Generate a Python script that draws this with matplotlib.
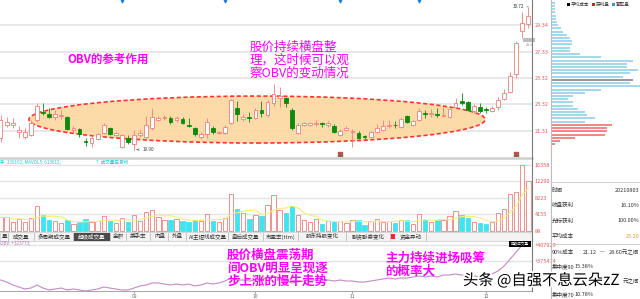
import numpy as np
import pandas as pd
import matplotlib
matplotlib.use('Agg')
import matplotlib.pyplot as plt
from matplotlib.patches import Ellipse, Rectangle
import matplotlib.patheffects as pe

plt.rcParams['font.family'] = ['Noto Sans CJK SC', 'DejaVu Sans']
plt.rcParams['axes.unicode_minus'] = False

# ---- 数据（从截图读数估计）----
opens = [20.78, 21.76, 21.80, 21.27, 20.86, 21.01, 22.14, 22.75, 22.60, 22.37,
         22.45, 22.37, 21.39, 21.46, 20.55, 20.40, 20.70, 21.16, 21.54, 21.01,
         20.10, 20.78, 20.32, 21.01, 20.86, 21.54, 22.14, 22.30, 22.30, 22.14,
         22.22, 21.76, 21.54, 20.86, 21.08, 21.54, 21.16, 21.16, 21.92, 23.05,
         22.22, 22.37, 22.30, 22.90, 22.52, 23.43, 23.81, 23.81, 22.90, 21.16,
         21.80, 21.80, 21.84, 21.92, 21.80, 21.69, 21.01, 21.39, 21.23, 21.16,
         20.90, 20.86, 21.23, 21.39, 21.72, 21.80, 21.61, 22.45, 21.76, 22.14,
         22.67, 22.63, 22.63, 22.41, 22.37, 23.13, 23.58, 23.51, 22.83, 23.13,
         23.01, 22.83, 23.13, 23.74, 24.27, 25.63, 28.89, 29.42]
highs = [22.52, 22.37, 22.30, 21.69, 21.54, 22.14, 23.43, 23.43, 23.05, 22.90,
         22.90, 22.45, 21.69, 21.54, 20.78, 21.01, 21.16, 21.92, 21.61, 21.23,
         21.08, 21.01, 21.39, 21.39, 22.45, 23.05, 22.45, 22.52, 22.45, 22.45,
         22.37, 22.30, 21.61, 21.23, 22.30, 21.69, 21.31, 21.76, 23.74, 23.58,
         22.60, 22.75, 23.05, 23.58, 23.66, 24.87, 24.65, 23.89, 23.05, 21.92,
         21.99, 21.99, 22.14, 21.99, 22.07, 21.84, 21.46, 21.69, 21.46, 21.31,
         21.01, 21.31, 21.84, 22.14, 22.14, 22.07, 22.30, 22.52, 22.14, 23.05,
         22.90, 22.98, 23.05, 23.13, 23.05, 23.81, 24.19, 23.58, 23.36, 23.43,
         23.13, 23.21, 23.89, 24.49, 25.78, 28.13, 30.33, 30.72]
lows = [20.48, 21.61, 21.54, 20.78, 20.70, 20.93, 21.99, 22.52, 22.30, 22.14,
        22.22, 21.39, 21.23, 20.86, 20.17, 20.10, 20.63, 21.08, 21.01, 20.93,
        20.02, 20.32, 19.90, 20.86, 20.78, 21.39, 22.07, 22.14, 21.84, 21.99,
        21.84, 21.61, 20.93, 20.70, 20.78, 21.08, 21.08, 21.08, 21.84, 22.07,
        22.07, 21.99, 22.22, 22.37, 22.37, 23.21, 23.13, 23.13, 21.39, 21.08,
        21.69, 21.69, 21.69, 21.61, 21.61, 21.16, 20.93, 21.31, 20.10, 20.70,
        20.70, 20.78, 21.16, 21.31, 21.54, 21.54, 21.54, 21.92, 21.69, 22.07,
        22.30, 22.37, 22.37, 22.37, 22.30, 23.05, 23.28, 22.83, 22.67, 22.67,
        22.67, 22.75, 22.90, 23.66, 24.19, 25.32, 28.36, 29.12]
closes = [22.14, 21.99, 21.88, 21.35, 21.23, 21.92, 23.21, 22.67, 22.37, 22.60,
          22.52, 21.46, 21.54, 21.08, 20.48, 20.78, 21.08, 21.76, 21.08, 21.16,
          21.01, 20.48, 21.01, 21.16, 21.76, 22.37, 22.30, 22.37, 21.99, 22.30,
          21.92, 21.69, 21.08, 21.08, 21.99, 21.23, 21.23, 21.61, 23.66, 22.60,
          22.37, 22.30, 22.90, 22.67, 23.51, 24.11, 23.96, 23.43, 21.54, 21.76,
          21.88, 21.88, 21.92, 21.84, 21.88, 21.23, 21.31, 21.54, 21.31, 20.78,
          20.82, 21.23, 21.54, 21.69, 21.80, 21.76, 22.22, 21.99, 22.07, 22.83,
          22.60, 22.71, 22.56, 22.49, 22.98, 23.43, 23.43, 22.90, 23.21, 22.83,
          22.94, 23.05, 23.66, 24.19, 25.48, 27.98, 29.50, 30.03]
volumes = [3400, 3450, 2220, 3060, 2220, 3200, 6090, 4040, 2640, 2390,
           2070, 2640, 1820, 2220, 2880, 2220, 2470, 3700, 2470, 2070,
           3300, 2220, 3900, 2390, 4680, 5280, 3450, 2810, 2810, 3060,
           2470, 2220, 2810, 2470, 4290, 2390, 2220, 3200, 9220, 5520,
           4440, 3060, 3870, 3620, 6340, 8800, 5280, 4440, 6160, 3870,
           2810, 2220, 2880, 1820, 2390, 2390, 2390, 2070, 2810, 2640,
           1400, 2390, 3060, 2220, 2470, 1970, 2810, 2640, 1650, 4290,
           2640, 2220, 2640, 2640, 3620, 4860, 4040, 3200, 2220, 2070,
           1650, 2220, 4540, 5350, 9220, 9610, 16358, 12290]
obv = [336900, 332900, 326800, 322800, 318700, 320700, 326800, 320700, 316700, 318700,
       320700, 316700, 318700, 316700, 314600, 316700, 318700, 322800, 320700, 318700,
       316700, 316700, 320700, 324800, 326800, 330900, 330900, 328800, 326800, 328800,
       326800, 328800, 324800, 326800, 330900, 328800, 330900, 334900, 341000, 336900,
       336900, 334900, 336900, 339000, 341000, 345100, 341000, 336900, 330900, 332900,
       334900, 336900, 336900, 334900, 336900, 334900, 336900, 334900, 334900, 332900,
       332900, 334900, 336900, 339000, 341000, 339000, 341000, 341000, 343000, 345100,
       343000, 345100, 343000, 347100, 347100, 349100, 347100, 345100, 345100, 343000,
       345100, 349100, 355200, 365300, 379500, 393700, 407900, 413500]

month_idx = [22, 42, 58, 80]
month_labels = ['09', '10', '11', '12']
event_idx = [20, 37, 56, 69]
mark_idx = [56, 85]

price_ticks = [21.31, 23.32, 25.32, 27.33, 29.34]
vol_ticks = [88, 4155, 8223, 12290, 16358]
obv_ticks = [375474, 407929]

# 筹码分布
chip_trap_prices = [31.04, 30.80, 30.55, 30.31, 30.06, 29.82, 29.58, 29.33, 29.09, 28.84,
                    28.60, 28.36, 28.11, 27.87, 27.62, 27.38, 27.14, 26.89, 26.65, 26.40,
                    26.16, 25.92, 25.67, 25.43, 25.18, 24.94, 24.70, 24.45, 24.21, 23.96,
                    23.72, 23.48, 23.23, 22.99, 22.74, 22.50, 22.26, 22.01]
chip_trap_sizes = [4, 4, 4, 4, 5, 5, 6, 7, 10, 12, 16, 19, 21, 21, 19, 19, 29, 50, 82, 76,
                   76, 87, 79, 72, 76, 79, 89, 50, 34, 22, 17, 22, 22, 27, 34, 36, 44, 34]
chip_profit_prices = [21.77, 21.52, 21.28, 21.04, 20.79, 20.55, 20.30]
chip_profit_sizes = [61, 56, 56, 54, 24, 9, 4]
avg_cost = 25.20
avg_cost_size = 82

RED = '#ee7f7f'
GREEN = '#0b8a0b'
CYAN = '#3fe4ef'
MAGENTA = '#ff00ff'

W, H = 640, 299
fig = plt.figure(figsize=(W / 100, H / 100), dpi=100)
fig.patch.set_facecolor('white')


def px_axes(x0, y0, x1, y1):
    ax = fig.add_axes([x0 / W, 1 - y1 / H, (x1 - x0) / W, (y1 - y0) / H])
    for s in ax.spines.values():
        s.set_visible(False)
    return ax


x = np.arange(len(closes))
o = np.array(opens)
c = np.array(closes)
up = c >= o
edge = np.where(up, RED, GREEN)
XLIM = (-0.1, 87.6)

# 1. K 线
ax = px_axes(0, 0, 532, 157)
ax.set_xlim(*XLIM)
ax.set_ylim(19.34, 31.24)
for p in price_ticks:
    ax.axhline(p, color='#e4e4e4', lw=1.2, zorder=0)
ax.add_patch(Ellipse((42.27, 22.18), 75.2, 3.56, facecolor='#fcd9a4', edgecolor='#ff2a2a',
                     ls=(0, (2.5, 1.5)), lw=1.2, alpha=0.95, zorder=1))
ax.vlines(x, lows, highs, colors=edge, lw=0.6, zorder=2)
ax.bar(x, np.maximum(np.abs(c - o), 0.03), bottom=np.minimum(o, c), width=0.62,
       color=np.where(up, 'white', GREEN), edgecolor=edge, lw=0.6, zorder=3)
ax.scatter(event_idx, [31.15] * len(event_idx), marker='v', s=3, color='#1e7fd8', zorder=4)
ax.scatter(mark_idx, [19.55] * len(mark_idx), marker='s', s=6, color='#a85a50', zorder=4)
ax.annotate('30.72', xy=(87, highs[-1]), xytext=(-3, 0), textcoords='offset points',
            ha='right', va='center', fontsize=3.3, color='#333333',
            arrowprops=dict(arrowstyle='-', lw=0.4, color='#333333'))
ax.annotate('19.90', xy=(22, lows[22]), xytext=(6, 0), textcoords='offset points',
            ha='left', va='center', fontsize=3.3, color='#333333',
            arrowprops=dict(arrowstyle='->', lw=0.4, color='#333333', mutation_scale=3))
ax.yaxis.tick_right()
ax.set_yticks(price_ticks)
ax.set_yticklabels([f'{p:.2f}' for p in price_ticks])
ax.tick_params(axis='y', length=0, labelsize=4, colors='#e05a5a', pad=2)
ax.set_xticks([])

# 2. 成交量
vax = px_axes(0, 160, 532, 232)
vax.set_xlim(*XLIM)
vax.set_ylim(-248, 17600)
for v in vol_ticks[1:]:
    vax.axhline(v, color='#e4e4e4', lw=1.0, zorder=0)
vax.bar(x, volumes, width=0.72, color=np.where(up, 'white', CYAN),
        edgecolor=np.where(up, RED, CYAN), lw=0.6, zorder=2)
ma5 = pd.Series(volumes).rolling(5, min_periods=1).mean()
vax.plot(x, ma5, color='#f6ef7a', lw=0.8, zorder=3)
vax.yaxis.tick_right()
vax.set_yticks(vol_ticks)
vax.set_yticklabels([str(v) for v in vol_ticks])
vax.tick_params(axis='y', length=0, labelsize=4, colors='#e05a5a', pad=2)
vax.set_xticks([])

# 3. OBV
oax = px_axes(0, 242, 532, 291)
oax.set_xlim(*XLIM)
oax.set_ylim(314641, 414013)
for v in obv_ticks:
    oax.axhline(v, color='#e4e4e4', lw=1.0, zorder=0)
oax.plot(x, obv, color='#c58ac5', lw=0.8, zorder=2)
oax.yaxis.tick_right()
oax.set_yticks(obv_ticks)
oax.set_yticklabels([f'+{v}' for v in obv_ticks])
oax.tick_params(axis='y', length=0, labelsize=4, colors='#e05a5a', pad=2)
oax.set_xticks(month_idx)
oax.set_xticklabels(month_labels)
oax.tick_params(axis='x', length=1.5, width=0.5, labelsize=3.5, colors='#666666', pad=0.5)
oax.spines['bottom'].set_visible(True)
oax.spines['bottom'].set_color('#aaaaaa')

# 4. 筹码分布
cax = px_axes(551, 0, 640, 157)
cax.set_xlim(0, 89)
cax.set_ylim(19.34, 31.24)
cax.barh(chip_trap_prices, chip_trap_sizes, height=0.15, color='#a6d8ea', lw=0)
cax.barh(chip_profit_prices, chip_profit_sizes, height=0.15, color='#ee8a8a', lw=0)
cax.barh([avg_cost], [avg_cost_size], height=0.15, color='#9a9a9a', lw=0)
cax.set_xticks([])
cax.set_yticks([])

# 5. 叠加层：分隔线、标签、注释文字
ov = fig.add_axes([0, 0, 1, 1], facecolor='none')
ov.set_zorder(10)
ov.set_xlim(0, W)
ov.set_ylim(H, 0)
ov.axis('off')

ov.plot([0, 532], [157.5, 157.5], color='#cfcfcf', lw=1.8)
ov.plot([532, 532], [0, 291], color='#7a7a7a', lw=0.8)
ov.plot([550.5, 550.5], [0, 299], color='#bdbdbd', lw=0.8)
ov.add_patch(Rectangle((0, 232), 532, 9, facecolor='#f3f3f3', edgecolor='#c8c8c8', lw=0.5))
ov.add_patch(Rectangle((509, 241), 22, 5.5, facecolor='black', lw=0))
ov.text(520, 243.8, '超级成交量', fontsize=2.6, color='white', ha='center', va='center')
ov.add_patch(Rectangle((523, 37.5), 12, 4.5, facecolor='#bdbdbd', lw=0))
ov.text(529, 44.5, '28.1', fontsize=2.6, color='#888888', ha='center', va='center')

tabs = [('量', 0, 8), ('成交量', 9, 34), ('多周期成交量', 35, 73), ('超级成交量', 74, 110),
        ('金额', 111, 126), ('换手率', 127, 150), ('内盘', 151, 168), ('外盘', 169, 186),
        ('AI主短线成交量', 187, 228), ('盘后成交量', 229, 263), ('市盈率(ttm)', 264, 298),
        ('股东持股变化', 299, 346), ('融资融券变化', 347, 390), ('资金异动', 396, 426)]
for label, x0, x1 in tabs:
    dark = label == '超级成交量'
    if dark:
        ov.add_patch(Rectangle((x0, 232.5), x1 - x0, 8, facecolor='#4a4a4a', lw=0))
    ov.plot([x1, x1], [233, 240], color='#b0b0b0', lw=0.5)
    ov.text((x0 + x1) / 2, 236.6, label, fontsize=4, ha='center', va='center',
            color='white' if dark else '#333333')
ov.add_patch(Rectangle((391, 234), 3.5, 4.5, facecolor='#e03030', lw=0))

ov.text(0, 162, '手: 339162; MAVOL5: 613612;', fontsize=3.3, color='#27c7d6', va='center')
ov.text(95, 162, '↑ 成交量已复权', fontsize=3.3, color='#27c7d6', va='center')
ov.text(0, 243.5, 'OBV: +323773;', fontsize=3.3, color='#b070b0', va='center')

# 筹码图例与信息
ov.add_patch(Rectangle((567, 3), 3, 2.5, facecolor='black', lw=0))
ov.text(571, 4.3, '平均成本', fontsize=3.3, va='center', color='#333333')
ov.add_patch(Rectangle((592, 3), 3, 2.5, facecolor='#d02020', lw=0))
ov.text(596, 4.3, '获利盘', fontsize=3.3, va='center', color='#333333')
ov.add_patch(Rectangle((612, 3), 3, 2.5, facecolor='#2a9ad0', lw=0))
ov.text(616, 4.3, '套牢盘', fontsize=3.3, va='center', color='#333333')

ov.plot([551, 640], [181.7, 181.7], color='#c8c8c8', lw=0.6)
ov.plot([551, 640], [244, 244], color='#c8c8c8', lw=0.6)
info_rows = [('时间', '20210803', 190, '#333333'), ('收盘获利', '16.10%', 205.7, '#333333'),
             ('光标获利', '100.00%', 221, '#333333'), ('平均成本', '25.20', 236.7, '#d49a2a')]
for name, val, yy, col in info_rows:
    ov.text(552, yy, name, fontsize=4, va='center', color='#333333')
    ov.text(639.5, yy, val, fontsize=4, va='center', ha='right', color=col)
ov.text(552, 252, '90%成本', fontsize=4, va='center', color='#333333')
ov.text(583, 252, '21.12', fontsize=4, va='center', color='#333333')
ov.text(600, 252, '—', fontsize=4, va='center', color='#333333')
ov.text(639.5, 252, '28.60元之间', fontsize=4, va='center', ha='right', color='#333333')
ov.text(552, 266.7, '集中度90', fontsize=4, va='center', color='#333333')
ov.text(575, 266.7, '15.38%', fontsize=4, va='center', color='#333333')
ov.text(639.5, 281, '元之间', fontsize=4, va='center', ha='right', color='#333333')
ov.text(552, 294.5, '集中度70', fontsize=4, va='center', color='#333333')
ov.text(575, 294.5, '10.78%', fontsize=4, va='center', color='#333333')

# 注释文字
ov.text(67, 59, 'OBV的参考作用', fontsize=8.3, color=MAGENTA, va='center', fontweight='bold')
ov.text(250, 40.5, '股价持续横盘整\n理，这时候可以观\n察OBV的变动情况', fontsize=9,
        color=MAGENTA, va='top', linespacing=1.0, fontweight='medium')
ov.text(227, 248.5, '股价横盘震荡期\n间OBV明显呈现逐\n步上涨的慢牛走势', fontsize=9,
        color=MAGENTA, va='top', linespacing=1.0, fontweight='bold')
ov.text(385, 251.5, '主力持续进场吸筹\n的概率大', fontsize=9, color=MAGENTA, va='top',
        linespacing=1.0, fontweight='bold')
ov.text(463, 280.5, '头条 @自强不息云朵zZ', fontsize=11, color='black', va='center',
        path_effects=[pe.withStroke(linewidth=2.5, foreground='white')])

fig.savefig('out.png', dpi=100)
plt.close(fig)
